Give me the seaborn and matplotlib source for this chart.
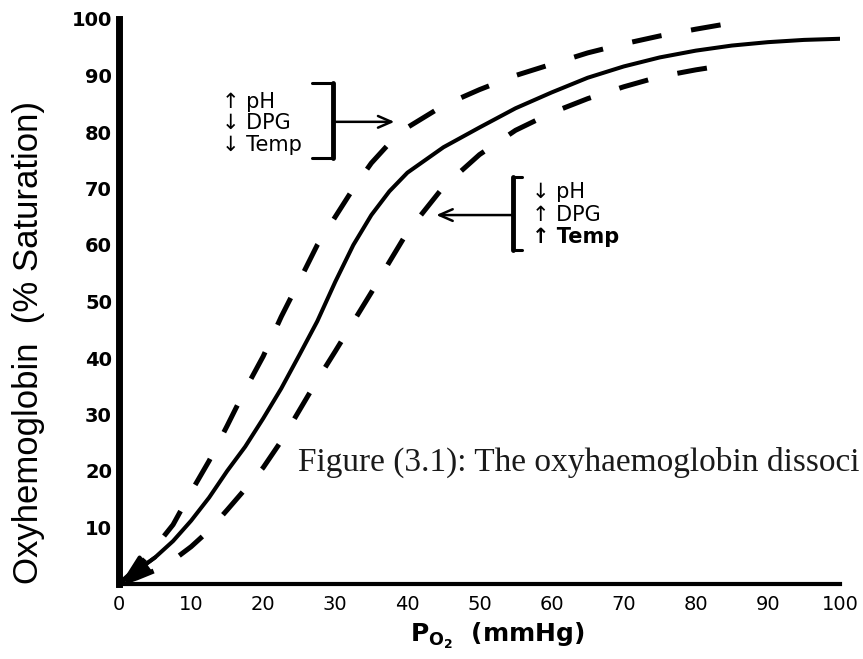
import matplotlib
matplotlib.use("Agg")
import matplotlib.pyplot as plt
import seaborn as sns
import pandas as pd

# ---------------- data ----------------
po2_normal = [0, 2.5, 5, 7.5, 10, 12.5, 15, 17.5, 20, 22.5, 25, 27.5, 30, 32.5, 35,
              37.5, 40, 45, 50, 55, 60, 65, 70, 75, 80, 85, 90, 95, 100]
sat_normal = [0, 2.4, 4.7, 7.6, 11.2, 15.3, 20, 24.3, 29.3, 34.6, 40.5, 46.5, 53.5, 60, 65.3,
              69.5, 72.8, 77.3, 80.8, 84.2, 87, 89.6, 91.6, 93.2, 94.4, 95.3, 95.9, 96.3, 96.5]

po2_left = [0, 2.5, 5, 7.5, 10, 12.5, 15, 17.5, 20, 22.5, 25, 27.5, 30, 32.5, 35,
            37.5, 40, 45, 50, 55, 60, 65, 70, 75, 80, 85]
sat_left = [0, 2.8, 6.5, 10.5, 16.3, 21.8, 28, 34.4, 40.3, 47.3, 53.6, 60, 65, 70, 74.5,
            78, 80.8, 84.7, 87.5, 90, 92, 94, 95.6, 97, 98.2, 99.3]

po2_right = [0, 2.5, 5, 7.5, 10, 12.5, 15, 17.5, 20, 22.5, 25, 27.5, 30, 32.5, 35,
             37.5, 40, 45, 50, 55, 60, 65, 70, 75, 80, 83]
sat_right = [0, 1.1, 2.4, 4.2, 6.6, 9.5, 13.1, 16.8, 20.6, 25.3, 30.7, 36.1, 41.2, 46.4, 51.6,
             57, 62.3, 70.3, 76, 80.3, 83.4, 85.9, 88, 89.8, 91, 91.6]

x_ticks = [0, 10, 20, 30, 40, 50, 60, 70, 80, 90, 100]
y_ticks = [10, 20, 30, 40, 50, 60, 70, 80, 90, 100]

left_labels = ["\u2191 pH", "\u2193 DPG", "\u2193 Temp"]
right_labels = ["\u2193 pH", "\u2191 DPG", "\u2191 Temp"]
x_title = "P$_{O_2}$  (mmHg)"
y_title = "Oxyhemoglobin  (% Saturation)"
caption = "Figure (3.1): The oxyhaemoglobin dissoci"   # visible part (cut at the image edge)

# ---------------- style ----------------
sns.set_theme(style="white")
plt.rcParams["font.family"] = ["DejaVu Sans"]
plt.rcParams["mathtext.default"] = "regular"

W, H = 863, 659
fig = plt.figure(figsize=(W / 100, H / 100), dpi=100)
ax = fig.add_axes([119 / W, 1 - 584 / H, (840 - 119) / W, (584 - 19) / H])

df_n = pd.DataFrame({"x": po2_normal, "y": sat_normal})
df_l = pd.DataFrame({"x": po2_left, "y": sat_left})
df_r = pd.DataFrame({"x": po2_right, "y": sat_right})

sns.lineplot(data=df_n, x="x", y="y", ax=ax, color="black", lw=2.9, estimator=None, sort=False)
sns.lineplot(data=df_l, x="x", y="y", ax=ax, color="black", lw=3.6, estimator=None, sort=False,
             linestyle=(10.8, (6, 6)))
sns.lineplot(data=df_r, x="x", y="y", ax=ax, color="black", lw=3.6, estimator=None, sort=False,
             linestyle=(10.6, (6, 6)))

# arrow head at the origin on the normal curve
ax.annotate("", xy=(0.4, 0.4), xytext=(po2_normal[2], sat_normal[2]),
            arrowprops=dict(arrowstyle="-|>,head_length=1.4,head_width=0.55",
                            color="black", lw=2.8, shrinkA=0, shrinkB=0))

ax.set_xlim(0, 100)
ax.set_ylim(0, 100)
ax.set_xticks(x_ticks)
ax.set_yticks(y_ticks)
ax.set_xticklabels([str(v) for v in x_ticks], fontsize=14, family="DejaVu Sans")
ax.set_yticklabels([str(v) for v in y_ticks], fontsize=14, fontweight="bold", family="DejaVu Sans")

for s in ["top", "right"]:
    ax.spines[s].set_visible(False)
ax.spines["left"].set_linewidth(5)
ax.spines["bottom"].set_linewidth(3)
for s in ["left", "bottom"]:
    ax.spines[s].set_color("black")
ax.tick_params(axis="y", direction="in", length=14, width=3, pad=5, colors="black")
ax.tick_params(axis="x", direction="in", length=9, width=2.5, pad=8, colors="black")
ax.set_xlabel("")
ax.set_ylabel("")

fig.text(497 / W, 1 - 642 / H, x_title, fontsize=18, fontweight="bold", family="DejaVu Sans",
         ha="center", va="baseline", color="black")
fig.text(29 / W, 1 - 342 / H, y_title, fontsize=25, family="Liberation Sans", rotation=90,
         ha="center", va="center", color="black")

# ---------------- annotations ----------------
tkw = dict(fontsize=15, color="black", va="center", ha="left", family="DejaVu Sans")
for lab, yy in zip(left_labels, [85.3, 81.6, 77.7]):
    ax.text(14.3, yy, lab, **tkw)
for i, (lab, yy) in enumerate(zip(right_labels, [69.4, 65.3, 61.4])):
    ax.text(57.3, yy, lab, fontweight="bold" if i == 2 else "normal", **tkw)

# bracket 1 (opening left)
ax.plot([26.8, 29.7, 29.7, 26.8], [88.7, 88.7, 75.4, 75.4], color="black", lw=2.2,
        solid_joinstyle="miter")
ax.plot([29.7, 29.7], [75.4, 88.7], color="black", lw=3.5)
ax.annotate("", xy=(38.2, 81.8), xytext=(29.7, 81.8),
            arrowprops=dict(arrowstyle="->,head_length=0.8,head_width=0.35", color="black",
                            lw=1.8, shrinkA=0, shrinkB=0))
# bracket 2 (opening right)
ax.plot([55.9, 54.6, 54.6, 55.9], [72.0, 72.0, 59.1, 59.1], color="black", lw=2.2,
        solid_joinstyle="miter")
ax.plot([54.6, 54.6], [59.1, 72.0], color="black", lw=3.5)
ax.annotate("", xy=(44.0, 65.3), xytext=(54.6, 65.3),
            arrowprops=dict(arrowstyle="->,head_length=0.8,head_width=0.35", color="black",
                            lw=1.8, shrinkA=0, shrinkB=0))

fig.text(298 / W, 1 - 471 / H, caption, fontsize=24, family="Liberation Serif",
         color="#1a1a1a", va="baseline", ha="left")

fig.savefig("out.png", dpi=100)
